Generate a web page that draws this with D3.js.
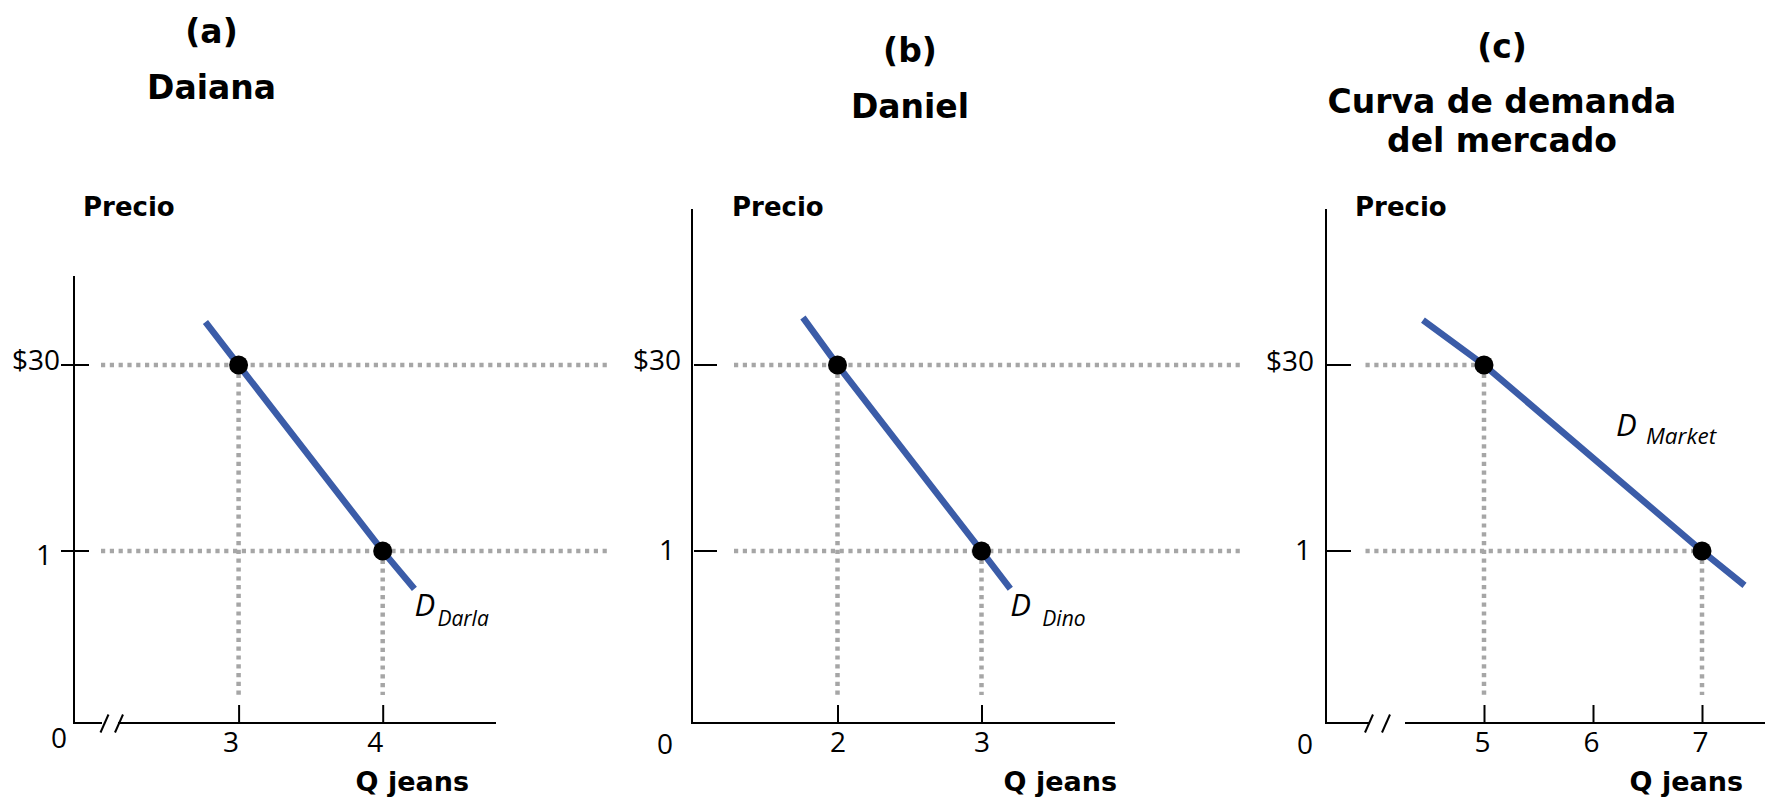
<!DOCTYPE html>
<html>
<head>
<meta charset="utf-8">
<script src="https://cdn.jsdelivr.net/npm/d3@7"></script>
<style>
  body { margin: 0; background: #ffffff; }
  svg { display: block; }
</style>
</head>
<body>
<svg id="chart" width="1765" height="797"></svg>
<script>
// ---------------- DATA ----------------
const panelLetters = ["(a)", "(b)", "(c)"];
const panelTitles = [["Daiana"], ["Daniel"], ["Curva de demanda", "del mercado"]];
const yAxisLabel = "Precio";
const xAxisLabel = "Q jeans";
const originLabel = "0";

const priceTicks = [30, 1];
const priceTickLabels = ["$30", "1"];

const qTicksA = [3, 4];
const qTicksB = [2, 3];
const qTicksC = [5, 6, 7];

// demand points (quantity, price)
const pointsA = [{ q: 3, p: 30 }, { q: 4, p: 1 }];
const pointsB = [{ q: 2, p: 30 }, { q: 3, p: 1 }];
const pointsC = [{ q: 5, p: 30 }, { q: 7, p: 1 }];

// demand curves (extended a little beyond the points)
const curveA = [{ q: 2.77, p: 36.7 }, { q: 3, p: 30 }, { q: 4, p: 1 }, { q: 4.22, p: 0.78 }];
const curveB = [{ q: 1.76, p: 37.4 }, { q: 2, p: 30 }, { q: 3, p: 1 }, { q: 3.2, p: 0.78 }];
const curveC = [{ q: 4.44, p: 37.0 }, { q: 5, p: 30 }, { q: 7, p: 1 }, { q: 7.39, p: 0.8 }];

const curveMain = ["D", "D", "D"];
const curveSub = ["Darla", "Dino", "Market"];

// ---------------- LAYOUT ----------------
const BLUE = "#3b5ca8";
const GREY = "#a6a6a6";
const TITLE_FONT = "'DejaVu Sans', Verdana, sans-serif";
const TICK_FONT = "'Open Sans', 'Liberation Sans', sans-serif";
const TICK_SIZE = 28;

const xAxisY = 723;
const guideBottom = 695;

const layouts = [
  { qTicks: qTicksA, points: pointsA, curve: curveA,
    axisX: 74, axisTop: 276, xAxisEnd: 496,
    xDom: [3, 4], xRng: [238.6, 382.7],
    gap: [102, 118], slashes: [104.5, 119],
    yTick: [-13, 15], yLabelEnd: [60, 52], yLabelBase: [5, 14],
    guideX0: 101, guideX1: 611, xLabelDx: -8,
    origin: [59, 748], precioX: 83, qEnd: 469,
    letterX: 211.5, letterY: 43, titleY: [99],
    labelRef: "end", dOff: [0, 27], subOff: [23, 37] },
  { qTicks: qTicksB, points: pointsB, curve: curveB,
    axisX: 692, axisTop: 209, xAxisEnd: 1115,
    xDom: [2, 3], xRng: [837.5, 981.5],
    gap: null, slashes: [],
    yTick: [2, 25], yLabelEnd: [681, 675], yLabelBase: [5, 9],
    guideX0: 734, guideX1: 1242, xLabelDx: 0,
    origin: [665, 754], precioX: 732, qEnd: 1117,
    letterX: 910, letterY: 62, titleY: [118],
    labelRef: "end", dOff: [0, 27], subOff: [32, 37] },
  { qTicks: qTicksC, points: pointsC, curve: curveC,
    axisX: 1326, axisTop: 209, xAxisEnd: 1765,
    xDom: [5, 7], xRng: [1484, 1702],
    gap: [1370, 1405], slashes: [1369, 1386],
    yTick: [1, 25], yLabelEnd: [1314, 1311], yLabelBase: [6, 9],
    guideX0: 1365.5, guideX1: null, xLabelDx: -2,
    origin: [1305, 754], precioX: 1355, qEnd: 1743,
    letterX: 1502, letterY: 58, titleY: [113, 152],
    labelRef: "first", dOff: [132, 71], subOff: [162, 79] }
];

const svg = d3.select("#chart");
svg.append("rect").attr("width", 1765).attr("height", 797).attr("fill", "#fff");

// price scale (not drawn to scale in the original: piecewise linear)
const y = d3.scaleLinear().domain([0, 1, 30]).range([xAxisY, 551, 365]);

layouts.forEach((L, i) => {
  const g = svg.append("g");
  const x = d3.scaleLinear().domain(L.xDom).range(L.xRng);

  // titles
  g.append("text")
    .attr("x", L.letterX).attr("y", L.letterY)
    .attr("text-anchor", "middle")
    .attr("font-family", TITLE_FONT).attr("font-weight", "bold")
    .attr("font-size", 33).attr("fill", "#000")
    .text(panelLetters[i]);
  panelTitles[i].forEach((t, k) => {
    g.append("text")
      .attr("x", L.letterX).attr("y", L.titleY[k])
      .attr("text-anchor", "middle")
      .attr("font-family", TITLE_FONT).attr("font-weight", "bold")
      .attr("font-size", 33).attr("fill", "#000")
      .text(t);
  });

  // axis titles
  g.append("text")
    .attr("x", L.precioX).attr("y", 216)
    .attr("font-family", TITLE_FONT).attr("font-weight", "bold")
    .attr("font-size", 26).attr("fill", "#000")
    .text(yAxisLabel);
  g.append("text")
    .attr("x", L.qEnd).attr("y", 791)
    .attr("text-anchor", "end")
    .attr("font-family", TITLE_FONT).attr("font-weight", "bold")
    .attr("font-size", 27).attr("fill", "#000")
    .text(xAxisLabel);

  // dotted guides
  const guides = g.append("g")
    .attr("stroke", GREY).attr("stroke-width", 4.5)
    .attr("stroke-dasharray", "4.2 4.6").attr("fill", "none");
  L.points.forEach(d => {
    guides.append("line")
      .attr("x1", L.guideX0).attr("x2", L.guideX1 !== null ? L.guideX1 : x(d.q))
      .attr("y1", y(d.p)).attr("y2", y(d.p));
    guides.append("line")
      .attr("x1", x(d.q)).attr("x2", x(d.q))
      .attr("y1", y(d.p)).attr("y2", guideBottom);
  });

  // y axis line
  g.append("line")
    .attr("x1", L.axisX).attr("x2", L.axisX)
    .attr("y1", L.axisTop).attr("y2", xAxisY + 1)
    .attr("stroke", "#000").attr("stroke-width", 2);

  // y ticks + labels
  g.selectAll(".ytick").data(priceTicks).join("line")
    .attr("class", "ytick")
    .attr("x1", L.axisX + L.yTick[0]).attr("x2", L.axisX + L.yTick[1])
    .attr("y1", d => y(d)).attr("y2", d => y(d))
    .attr("stroke", "#000").attr("stroke-width", 2);
  g.selectAll(".ylab").data(priceTicks).join("text")
    .attr("class", "ylab")
    .attr("x", (d, k) => L.yLabelEnd[k])
    .attr("y", (d, k) => y(d) + L.yLabelBase[k])
    .attr("text-anchor", "end")
    .attr("font-family", TICK_FONT).attr("font-size", TICK_SIZE).attr("fill", "#000")
    .text((d, k) => priceTickLabels[k]);

  // x axis line (with optional break)
  const xa = g.append("g").attr("stroke", "#000").attr("stroke-width", 2);
  if (L.gap) {
    xa.append("line").attr("x1", L.axisX - 1).attr("x2", L.gap[0])
      .attr("y1", xAxisY).attr("y2", xAxisY);
    xa.append("line").attr("x1", L.gap[1]).attr("x2", L.xAxisEnd)
      .attr("y1", xAxisY).attr("y2", xAxisY);
    L.slashes.forEach(cx => {
      xa.append("line")
        .attr("x1", cx - 4).attr("y1", xAxisY + 9.5)
        .attr("x2", cx + 4).attr("y2", xAxisY - 8.5);
    });
  } else {
    xa.append("line").attr("x1", L.axisX - 1).attr("x2", L.xAxisEnd)
      .attr("y1", xAxisY).attr("y2", xAxisY);
  }

  // x ticks via d3 axis
  const axis = d3.axisBottom(x).tickValues(L.qTicks)
    .tickSizeInner(-18).tickSizeOuter(0).tickPadding(9)
    .tickFormat(d3.format("d"));
  const ag = g.append("g").attr("transform", `translate(0,${xAxisY})`).call(axis);
  ag.select(".domain").remove();
  ag.selectAll(".tick line").attr("stroke", "#000").attr("stroke-width", 2);
  ag.selectAll(".tick text")
    .attr("font-family", TICK_FONT).attr("font-size", TICK_SIZE).attr("fill", "#000")
    .attr("dx", L.xLabelDx);
  ag.attr("font-family", null).attr("font-size", null);

  // origin label
  g.append("text")
    .attr("x", L.origin[0]).attr("y", L.origin[1])
    .attr("text-anchor", "middle")
    .attr("font-family", TICK_FONT).attr("font-size", TICK_SIZE).attr("fill", "#000")
    .text(originLabel);

  // demand curve
  const line = d3.line().x(d => x(d.q)).y(d => y(d.p));
  g.append("path")
    .datum(L.curve)
    .attr("d", line)
    .attr("fill", "none").attr("stroke", BLUE)
    .attr("stroke-width", 6.5).attr("stroke-linecap", "butt");

  // points
  g.selectAll(".pt").data(L.points).join("circle")
    .attr("class", "pt")
    .attr("cx", d => x(d.q)).attr("cy", d => y(d.p))
    .attr("r", 9.5).attr("fill", "#000");

  // curve label
  const ref = L.labelRef === "end" ? L.curve[L.curve.length - 1] : L.points[0];
  const rx = x(ref.q), ry = y(ref.p);
  g.append("text")
    .attr("x", rx + L.dOff[0]).attr("y", ry + L.dOff[1])
    .attr("font-family", TICK_FONT).attr("font-style", "italic")
    .attr("font-size", 31).attr("fill", "#000")
    .text(curveMain[i]);
  g.append("text")
    .attr("x", rx + L.subOff[0]).attr("y", ry + L.subOff[1])
    .attr("font-family", TICK_FONT).attr("font-style", "italic")
    .attr("font-size", i === 2 ? 22.5 : 21).attr("fill", "#000")
    .text(curveSub[i]);
});
</script>
</body>
</html>
